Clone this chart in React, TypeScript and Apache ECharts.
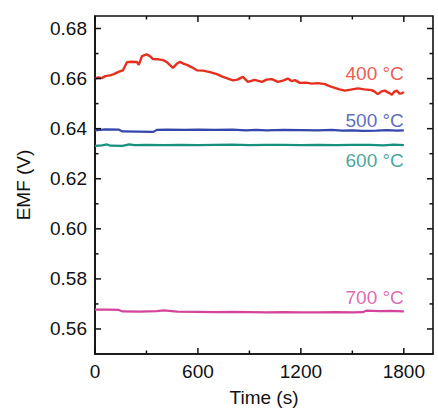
import React, { useEffect, useRef } from "react";
import * as echarts from "echarts";

const xMajorTicks = [0, 600, 1200, 1800];
const xMinorTicks = [300, 900, 1500];
const yMajorTicks = [0.56, 0.58, 0.6, 0.62, 0.64, 0.66, 0.68];
const yMinorTicks = [0.57, 0.59, 0.61, 0.63, 0.65, 0.67];

const seriesNames = ["400 °C", "500 °C", "600 °C", "700 °C"];
const seriesColors = ["#e5301f", "#3545ab", "#17907f", "#d4449b"];

const time400 = [0, 20, 40, 60, 87, 110, 140, 163, 186, 215, 245, 255, 274, 300, 320, 338, 370, 396, 420, 454, 475, 495, 515, 536, 565, 594, 630, 670, 710, 746, 775, 804, 830, 862, 891, 930, 973, 1000, 1031, 1066, 1095, 1124, 1145, 1165, 1194, 1230, 1264, 1300, 1340, 1360, 1380, 1420, 1456, 1490, 1532, 1570, 1613, 1630, 1648, 1670, 1689, 1710, 1730, 1745, 1759, 1775, 1788, 1800];
const emf400 = [0.66, 0.6605, 0.6602, 0.661, 0.6613, 0.6618, 0.6628, 0.6633, 0.6665, 0.6667, 0.6666, 0.6655, 0.669, 0.6697, 0.669, 0.6678, 0.6677, 0.6674, 0.6665, 0.6643, 0.6658, 0.6667, 0.666, 0.6655, 0.6645, 0.6633, 0.6632, 0.6626, 0.6618, 0.6607, 0.66, 0.6593, 0.6596, 0.6607, 0.6587, 0.6595, 0.6587, 0.6596, 0.6598, 0.6587, 0.6592, 0.66, 0.659, 0.6594, 0.6583, 0.6584, 0.658, 0.6582, 0.6578, 0.6572, 0.6567, 0.6558, 0.6552, 0.6556, 0.6561, 0.6557, 0.6554, 0.6548, 0.6538, 0.6549, 0.6552, 0.6544, 0.6535, 0.6548, 0.6552, 0.654, 0.6541, 0.6547];

const time500 = [0, 60, 140, 160, 250, 340, 360, 420, 520, 600, 700, 800, 880, 940, 1000, 1100, 1200, 1300, 1380, 1440, 1500, 1560, 1640, 1700, 1760, 1800];
const emf500 = [0.6393, 0.6397, 0.6396, 0.6389, 0.6388, 0.6387, 0.6395, 0.6396, 0.6395, 0.6396, 0.6395, 0.6396, 0.6393, 0.6395, 0.6393, 0.6395, 0.6394, 0.6393, 0.6395, 0.6392, 0.6393, 0.6391, 0.6392, 0.6394, 0.6392, 0.6393];

const time600 = [0, 40, 70, 90, 160, 200, 230, 300, 400, 500, 600, 700, 800, 900, 1000, 1100, 1200, 1300, 1400, 1500, 1600, 1680, 1740, 1800];
const emf600 = [0.6331, 0.6333, 0.6337, 0.6332, 0.6331, 0.6337, 0.6334, 0.6335, 0.6334, 0.6335, 0.6334, 0.6335, 0.6336, 0.6334, 0.6335, 0.6335, 0.6334, 0.6335, 0.6334, 0.6335, 0.6335, 0.6333, 0.6336, 0.6334];

const time700 = [0, 80, 140, 160, 260, 360, 400, 480, 600, 700, 800, 900, 1000, 1100, 1200, 1300, 1400, 1500, 1560, 1580, 1660, 1720, 1800];
const emf700 = [0.5677, 0.5677, 0.5676, 0.567, 0.5669, 0.5671, 0.5674, 0.5669, 0.5668, 0.5667, 0.5668, 0.5667, 0.5666, 0.5667, 0.5666, 0.5666, 0.5667, 0.5666, 0.5667, 0.5673, 0.5671, 0.5672, 0.567];

const labelTimes = [1800, 1800, 1800, 1800];
const labelValues = [0.6619, 0.6434, 0.6274, 0.5727];

const FONT = "Liberation Sans, Arial, sans-serif";

export default function App() {
  const ref = useRef<HTMLDivElement>(null);
  useEffect(() => {
    if (!ref.current) return;
    const chart = echarts.init(ref.current, undefined, { renderer: "svg" });
    const xMin = 0;
    const xMax = 1970;
    const yMin = 0.55;
    const yMax = 0.685;
    const isMajorX = (v: number) => xMajorTicks.some((m) => Math.abs(m - v) < 1e-6);
    const isMajorY = (v: number) => yMajorTicks.some((m) => Math.abs(m - v) < 1e-6);
    const times = [time400, time500, time600, time700];
    const emfs = [emf400, emf500, emf600, emf700];
    const lineSeries = times.map((t, i) => ({
      type: "line",
      name: seriesNames[i],
      data: t.map((x, j) => [x, emfs[i][j]]),
      showSymbol: false,
      symbol: "none",
      lineStyle: { color: seriesColors[i], width: i === 0 ? 2.4 : 2.2 },
      z: 3,
    }));
    const labelSeries = {
      type: "scatter",
      symbolSize: 0,
      silent: true,
      data: labelTimes.map((x, i) => ({
        value: [x, labelValues[i]],
        label: {
          show: true,
          position: "left",
          distance: 0,
          formatter: seriesNames[i],
          fontFamily: FONT,
          fontSize: 19,
          color: seriesColors[i],
        },
      })),
    };
    // tick items: [value, dimension (0 = time axis, 1 = EMF axis), major flag]
    const tickItems = [
      ...xMajorTicks.map((v) => [v, 0, 1]),
      ...xMinorTicks.map((v) => [v, 0, 0]),
      ...yMajorTicks.map((v) => [v, 1, 1]),
      ...yMinorTicks.map((v) => [v, 1, 0]),
    ];
    const tickSeries = {
      type: "custom",
      silent: true,
      clip: false,
      z: 10,
      encode: { x: -1, y: -1 },
      data: tickItems,
      renderItem: (params: any, api: any) => {
        const v = api.value(0);
        const dim = api.value(1);
        const len = api.value(2) ? 6 : 3.5;
        const style = { stroke: "#111", lineWidth: 1.5 };
        if (dim === 0) {
          const b = api.coord([v, yMin]);
          const t = api.coord([v, yMax]);
          return {
            type: "group",
            children: [
              { type: "line", shape: { x1: b[0], y1: b[1], x2: b[0], y2: b[1] - len }, style },
              { type: "line", shape: { x1: t[0], y1: t[1], x2: t[0], y2: t[1] + len }, style },
            ],
          };
        }
        const l = api.coord([xMin, v]);
        const r = api.coord([xMax, v]);
        return {
          type: "group",
          children: [
            { type: "line", shape: { x1: l[0], y1: l[1], x2: l[0] + len, y2: l[1] }, style },
            { type: "line", shape: { x1: r[0], y1: r[1], x2: r[0] - len, y2: r[1] }, style },
          ],
        };
      },
    };
    chart.setOption({
      animation: false,
      grid: { left: 95, right: 5, top: 16, bottom: 52, show: true, borderColor: "#111", borderWidth: 1.6, backgroundColor: "transparent" },
      xAxis: {
        type: "value",
        min: xMin,
        max: xMax,
        interval: 300,
        name: "Time (s)",
        nameLocation: "middle",
        nameGap: 34,
        nameTextStyle: { fontFamily: FONT, fontSize: 19, color: "#111" },
        splitLine: { show: false },
        axisLine: { show: true, lineStyle: { color: "#111", width: 1.6 } },
        axisTick: { show: false },
        axisLabel: {
          margin: 8,
          fontFamily: FONT,
          fontSize: 19,
          color: "#111",
          formatter: (v: number) => (isMajorX(v) ? String(Math.round(v)) : ""),
        },
      },
      yAxis: {
        type: "value",
        min: yMin,
        max: yMax,
        interval: 0.01,
        name: "EMF (V)",
        nameLocation: "middle",
        nameGap: 62,
        nameTextStyle: { fontFamily: FONT, fontSize: 19, color: "#111" },
        splitLine: { show: false },
        axisLine: { show: true, lineStyle: { color: "#111", width: 1.6 } },
        axisTick: { show: false },
        axisLabel: {
          margin: 8,
          fontFamily: FONT,
          fontSize: 19,
          color: "#111",
          formatter: (v: number) => (isMajorY(v) ? v.toFixed(2) : ""),
        },
      },
      series: [...lineSeries, labelSeries, tickSeries],
    });
    return () => chart.dispose();
  }, []);
  return (
    <div
      ref={ref}
      style={{ position: "fixed", left: 0, top: 0, width: 438, height: 412, background: "#fff" }}
    />
  );
}
